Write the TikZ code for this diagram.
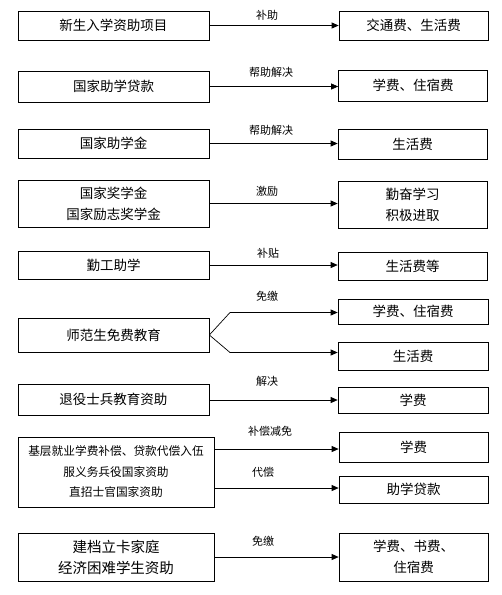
\documentclass[tikz,border=0pt]{standalone}
\usepackage{fontspec}
\newfontfamily\cjk{Noto Sans CJK SC}
\usetikzlibrary{arrows.meta,calc}
\tikzset{
  box/.style={draw=black, line width=0.7pt, inner sep=0pt, align=center,
    font=\cjk\fontsize{13.5}{21}\selectfont},
  lbox/.style={box, minimum width=191pt},
  rbox/.style={box, minimum width=149pt},
  lab/.style={inner sep=0pt, font=\cjk\fontsize{11}{13}\selectfont},
  arr/.style={line width=0.7pt, -{Triangle[length=7pt,width=6pt]}},
}
\begin{document}
\begin{tikzpicture}[x=1pt,y=-1pt]
\useasboundingbox (0,0) rectangle (502,595);
% row 1
\node[lbox, minimum height=29pt] (L1) at (113.5,25.5) {新生入学资助项目};
\node[rbox, minimum height=29pt] (R1) at (413.5,25.5) {交通费、生活费};
\draw[arr] (L1.east) -- (L1.east -| R1.west);
\node[lab] (T1) at (267,15) {补助};
% row 2
\node[lbox, minimum height=31pt] (L2) at (113.5,86.5) {国家助学贷款};
\node[rbox, minimum height=31pt] (R2) at (413,85.5) {学费、住宿费};
\draw[arr] (L2.east) -- (L2.east -| R2.west);
\node[lab] (T2) at (271,72) {帮助解决};
% row 3
\node[lbox, minimum height=29pt] (L3) at (113.5,143.5) {国家助学金};
\node[rbox, minimum height=30pt] (R3) at (412.5,144) {生活费};
\draw[arr] (L3.east) -- (L3.east -| R3.west);
\node[lab] (T3) at (271,130) {帮助解决};
% row 4
\node[lbox, minimum height=47pt] (L4) at (113.5,203.5) {国家奖学金\\国家励志奖学金};
\node[rbox, minimum height=47pt] (R4) at (412.5,204.5) {勤奋学习\\积极进取};
\draw[arr] (L4.east) -- (L4.east -| R4.west);
\node[lab] (T4) at (267,191) {激励};
% row 5
\node[lbox, minimum height=28pt] (L5) at (113.5,265) {勤工助学};
\node[rbox, minimum height=28pt] (R5) at (412.5,266) {生活费等};
\draw[arr] (L5.east) -- (L5.east -| R5.west);
\node[lab] (T5) at (268,253) {补贴};
% row 6
\node[lbox, minimum height=34pt] (L6) at (113.5,335) {师范生免费教育};
\node[rbox, minimum width=150pt, minimum height=25pt] (R6a) at (413,311.5) {学费、住宿费};
\node[rbox, minimum width=150pt, minimum height=28pt] (R6b) at (413,356) {生活费};
\coordinate (B1) at (230,312.5);
\coordinate (B2) at (230,352.5);
\draw[arr] (L6.east) -- (B1) -- (B1 -| R6a.west);
\draw[arr] (L6.east) -- (B2) -- (B2 -| R6b.west);
\node[lab] (T6) at (267,296) {免缴};
% row 7
\node[lbox, minimum height=31pt] (L7) at (113.5,399.5) {退役士兵教育资助};
\node[rbox, minimum width=150pt, minimum height=26pt] (R7) at (413,400) {学费};
\draw[arr] (L7.east |- R7.west) -- (R7.west);
\node[lab] (T7) at (267,381) {解决};
% row 8
\node[box, minimum width=196pt, minimum height=70pt, font=\cjk\fontsize{11.7}{20.5}\selectfont] (L8) at (116,472)
  {基层就业学费补偿、贷款代偿入伍\\服义务兵役国家资助\\直招士官国家资助};
\node[rbox, minimum height=30pt] (R8a) at (413.5,447) {学费};
\node[rbox, minimum height=27pt] (R8b) at (413.5,489.5) {助学贷款};
\coordinate (C1) at (214,449);
\coordinate (C2) at (214,488);
\draw[arr] (C1) -- (C1 -| R8a.west);
\draw[arr] (C2) -- (C2 -| R8b.west);
\node[lab] (T8a) at (270,431) {补偿减免};
\node[lab] (T8b) at (263,472) {代偿};
% row 9
\node[box, minimum width=196pt, minimum height=48pt, font=\cjk\fontsize{14.5}{21}\selectfont] (L9) at (116,557) {建档立卡家庭\\经济困难学生资助};
\node[rbox, minimum height=48pt] (R9) at (413.5,557) {学费、书费、\\住宿费};
\draw[arr] (L9.east) -- (L9.east -| R9.west);
\node[lab] (T9) at (263,541) {免缴};
\end{tikzpicture}
\end{document}
